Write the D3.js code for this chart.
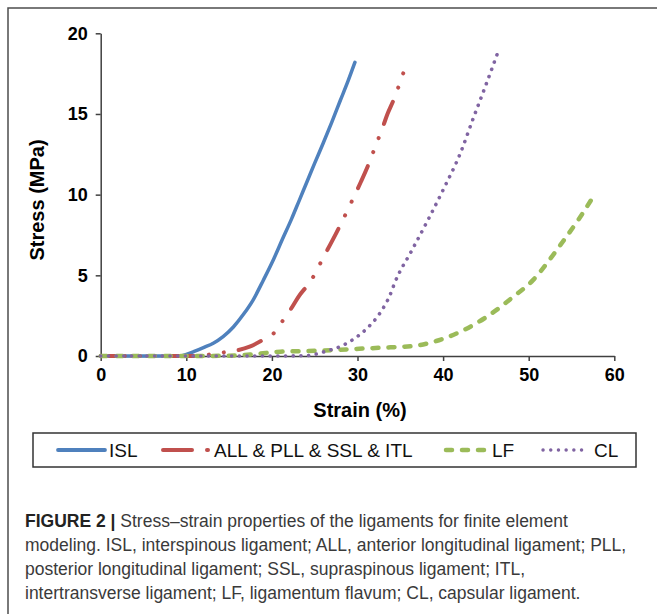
<!DOCTYPE html>
<html>
<head>
<meta charset="utf-8">
<script src="https://cdn.jsdelivr.net/npm/d3@7"></script>
<style>
  body { margin: 0; background: #fff; }
  svg { display: block; font-family: "Liberation Sans", Arial, sans-serif; }
</style>
</head>
<body>
<div id="chart"></div>
<script>
// values: strain (%) and stress (MPa)
var islStrain = [0, 5, 9.3, 10, 11, 12, 13.15, 14.3, 15.5, 16.7, 17.8, 19, 20.2, 21.2, 22.3, 23.2, 24.1, 25, 26, 27, 28, 28.9, 29.7];
var islStress = [0, 0, 0, 0.1, 0.3, 0.52, 0.79, 1.2, 1.8, 2.6, 3.47, 4.7, 6.0, 7.2, 8.5, 9.65, 10.8, 11.95, 13.2, 14.5, 15.85, 17.05, 18.2];

var allStrain = [0, 5, 11, 14, 15.8, 17.4, 18.8, 20.2, 21.1, 22.2, 23.1, 24.6, 26, 27.5, 28.9, 29.7, 30.4, 31.15, 32.24, 32.9, 33.5, 34.2, 35.3, 35.86];
var allStress = [0, 0, 0, 0.2, 0.33, 0.58, 0.95, 1.4, 2.06, 2.9, 3.67, 4.7, 6.1, 7.6, 9.1, 10.0, 10.8, 11.7, 13.2, 14.1, 15.0, 15.85, 17.46, 18.33];

var lfStrain = [0, 5, 10, 15, 18, 21, 25.6, 28.7, 32.6, 36.5, 39.2, 42, 45.1, 48.2, 50.5, 52.2, 54, 56, 57.8];
var lfStress = [0, 0, 0, 0.02, 0.12, 0.27, 0.33, 0.41, 0.51, 0.62, 0.93, 1.5, 2.43, 3.67, 4.7, 5.8, 7.1, 8.6, 10.1];

var clStrain = [0, 5, 10, 15, 20, 24, 25.2, 26.4, 27.95, 29.5, 31.1, 32.6, 33.8, 34.4, 36.3, 38.3, 40.1, 42, 43.5, 45, 46.45];
var clStress = [0, 0, 0, 0, 0, 0.02, 0.12, 0.31, 0.58, 1.03, 1.71, 2.64, 3.78, 4.6, 6.5, 8.5, 10.4, 12.55, 14.7, 16.8, 18.9];

var xTicks = [0, 10, 20, 30, 40, 50, 60];
var yTicks = [0, 5, 10, 15, 20];

var seriesNames = ["ISL", "ALL & PLL & SSL & ITL", "LF", "CL"];
var seriesColors = ["#4f81bd", "#c0504d", "#9bbb59", "#8064a2"];

var captionLines = [
  " Stress\u2013strain properties of the ligaments for finite element",
  "modeling. ISL, interspinous ligament; ALL, anterior longitudinal ligament; PLL,",
  "posterior longitudinal ligament; SSL, supraspinous ligament; ITL,",
  "intertransverse ligament; LF, ligamentum flavum; CL, capsular ligament."
];

var W = 657, H = 614;
var svg = d3.select("#chart").append("svg")
  .attr("width", W)
  .attr("height", H);

// outer figure frame (runs off the right and bottom edge)
svg.append("rect")
  .attr("x", 8).attr("y", 8)
  .attr("width", W + 20).attr("height", H + 20)
  .attr("fill", "none")
  .attr("stroke", "#4d4d4d")
  .attr("stroke-width", 1.5);

var x = d3.scaleLinear().domain([0, 60]).range([100.7, 614.3]);
var y = d3.scaleLinear().domain([0, 20]).range([356, 33.3]);

var xAxis = svg.append("g")
  .attr("transform", "translate(0," + y(0) + ")")
  .call(d3.axisBottom(x).tickValues(xTicks).tickSize(5).tickPadding(7).tickSizeOuter(0));
var yAxis = svg.append("g")
  .attr("transform", "translate(" + x(0) + ",0)")
  .call(d3.axisLeft(y).tickValues(yTicks).tickSize(5).tickPadding(8).tickSizeOuter(0));

[xAxis, yAxis].forEach(function(g) {
  g.select(".domain").attr("stroke", "#404040").attr("stroke-width", 1.5);
  g.selectAll(".tick line").attr("stroke", "#404040").attr("stroke-width", 1.5);
  g.selectAll(".tick text")
    .attr("fill", "#000")
    .style("font-size", "18px")
    .style("font-weight", "bold")
    .style("font-family", "'Liberation Sans', Arial, sans-serif");
});

svg.append("text")
  .attr("x", 360).attr("y", 417)
  .attr("text-anchor", "middle")
  .style("font-size", "20px").style("font-weight", "bold")
  .text("Strain (%)");

svg.append("text")
  .attr("transform", "translate(43.5,200) rotate(-90)")
  .attr("text-anchor", "middle")
  .style("font-size", "20px").style("font-weight", "bold")
  .text("Stress (MPa)");

var line = d3.line()
  .x(function(d) { return x(d[0]); })
  .y(function(d) { return y(d[1]); })
  .curve(d3.curveMonotoneX);

var styles = [
  { width: 3.5, dash: null },
  { width: 4, dash: "24,15,0.1,15,0.1,15" },
  { width: 4.5, dash: "6,10" },
  { width: 3.6, dash: "0.1,7.6" }
];

var series = [
  d3.zip(islStrain, islStress),
  d3.zip(allStrain, allStress),
  d3.zip(lfStrain, lfStress),
  d3.zip(clStrain, clStress)
];

series.forEach(function(pts, i) {
  svg.append("path")
    .datum(pts)
    .attr("d", line)
    .attr("fill", "none")
    .attr("stroke", seriesColors[i])
    .attr("stroke-width", styles[i].width)
    .attr("stroke-linecap", "round")
    .attr("stroke-dasharray", styles[i].dash);
});

// legend
var legend = svg.append("g");
legend.append("rect")
  .attr("x", 33).attr("y", 433)
  .attr("width", 603).attr("height", 34)
  .attr("fill", "#fff")
  .attr("stroke", "#333")
  .attr("stroke-width", 1.5);

var legendItems = [
  { x1: 58, x2: 105, tx: 109, dash: null, w: 3.8 },
  { x1: 163, x2: 208, tx: 214, dash: "29,15", w: 4 },
  { x1: 446, x2: 486, tx: 492, dash: "6,10", w: 4.5 },
  { x1: 543, x2: 585, tx: 594, dash: "0.1,7.6", w: 3.4 }
];
legendItems.forEach(function(d, i) {
  legend.append("line")
    .attr("x1", d.x1).attr("x2", d.x2)
    .attr("y1", 450).attr("y2", 450)
    .attr("stroke", seriesColors[i])
    .attr("stroke-width", d.w)
    .attr("stroke-linecap", "round")
    .attr("stroke-dasharray", d.dash);
  legend.append("text")
    .attr("x", d.tx).attr("y", 457)
    .style("font-size", "19px")
    .attr("fill", "#111")
    .text(seriesNames[i]);
});

// caption
var cap = svg.append("g").attr("fill", "#3a3a3a").style("font-size", "17.5px");
captionLines.forEach(function(s, i) {
  var t = cap.append("text").attr("x", 25).attr("y", 527 + i * 24);
  if (i === 0) {
    t.append("tspan").style("font-weight", "bold").attr("fill", "#222").text("FIGURE 2 |");
  }
  t.append("tspan").text(s);
});
</script>
</body>
</html>
